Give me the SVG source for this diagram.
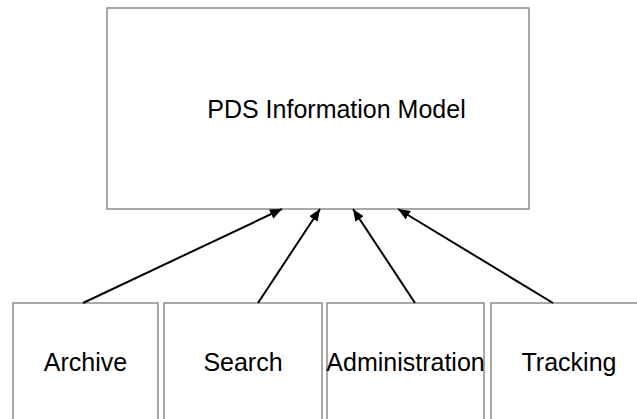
<svg xmlns="http://www.w3.org/2000/svg" width="637" height="419" viewBox="0 0 637 419">
<defs>
<marker id="ah" markerWidth="12" markerHeight="10" refX="12" refY="5" orient="auto" markerUnits="userSpaceOnUse">
<path d="M0,0 L12,5 L0,10 Z" fill="#000"/>
</marker>
<style>
.box{fill:#fff;stroke:#8c8c8c;stroke-width:1.5}
.lbl{font-family:"Liberation Sans",Arial,sans-serif;font-size:25px;fill:#000;text-anchor:middle}
.con{stroke:#000;stroke-width:2;fill:none;marker-end:url(#ah)}
</style>
</defs>
<rect width="637" height="419" fill="#fff"/>
<g id="pds">
<rect class="box" x="107" y="8" width="422" height="201"/>
<text class="lbl" x="336.5" y="118">PDS Information Model</text>
</g>
<g id="archive">
<rect class="box" x="13" y="303" width="145" height="130"/>
<text class="lbl" x="85.5" y="371">Archive</text>
</g>
<g id="search">
<rect class="box" x="164" y="303" width="158" height="130"/>
<text class="lbl" x="243" y="371">Search</text>
</g>
<g id="administration">
<rect class="box" x="327" y="303" width="157" height="130"/>
<text class="lbl" x="405.5" y="371">Administration</text>
</g>
<g id="tracking">
<rect class="box" x="491" y="303" width="156" height="130"/>
<text class="lbl" x="569" y="371">Tracking</text>
</g>
<g id="connectors">
<line class="con" x1="83" y1="303" x2="282" y2="209"/>
<line class="con" x1="258" y1="303" x2="320" y2="209"/>
<line class="con" x1="415" y1="303" x2="353" y2="209"/>
<line class="con" x1="553" y1="303" x2="398" y2="209"/>
</g>
</svg>
